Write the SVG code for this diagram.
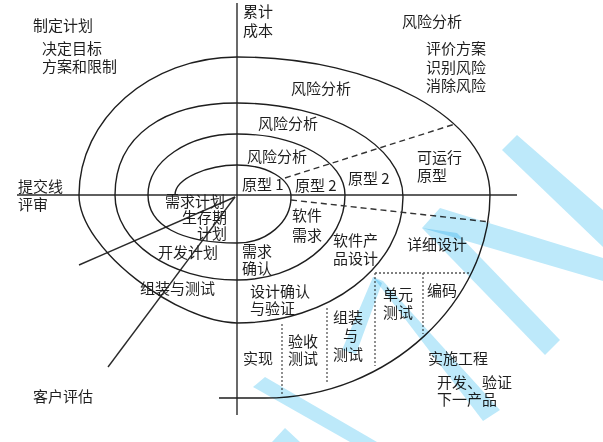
<svg xmlns="http://www.w3.org/2000/svg" width="603" height="442" viewBox="0 0 603 442">
<style>
  .ln{fill:none;stroke:#1e1e1e;stroke-width:1.4}
  .ax{fill:none;stroke:#2a2a2a;stroke-width:1.4}
  .dash{fill:none;stroke:#333;stroke-width:1.4;stroke-dasharray:6 4}
  .dot{fill:none;stroke:#555;stroke-width:1.3;stroke-dasharray:2 2}
  text{font-family:"Noto Sans CJK SC","Noto Sans",sans-serif;font-size:15px;fill:#1e1e1e}
  .wm{fill:#bde9fa;mix-blend-mode:multiply}
</style>
<rect width="603" height="442" fill="#ffffff"/>
<g id="axes">
  <line class="ax" x1="237" y1="3" x2="237" y2="415"/>
  <line class="ax" x1="17" y1="195" x2="517" y2="195"/>
  <line class="ax" x1="79" y1="265" x2="235" y2="197"/>
  <line class="ax" x1="108" y1="367" x2="235" y2="197"/>
</g>
<g id="spiral">
  <path class="ln" d="M175,195 C175,178 209,165 237,165 C267,165 291,179 291,197 C291,222 267,243 237,243 C180,243 148,225 148,195 C148,161 188,134 237,134 C297,134 345,161 345,195 C345,242 297,280 237,280 C170,280 115,242 115,195 C115,135 165,103 237,103 C329,103 403,145 403,197 C403,266 329,323 237,323 C180,323 79,250 79,195 C79,119 150,57 237,57 C377,57 490,119 490,195 C490,300 390,398 265,398 L219,398"/>
</g>
<g id="connectors">
  <line class="dash" x1="285" y1="178" x2="455" y2="124"/>
  <line class="dash" x1="291" y1="200" x2="490" y2="222"/>
  <line class="dot" x1="375" y1="273" x2="471" y2="273"/>
  <line class="dot" x1="375" y1="273" x2="375" y2="366"/>
  <line class="dot" x1="423" y1="273" x2="423" y2="334"/>
  <line class="dot" x1="327" y1="308" x2="327" y2="384"/>
  <line class="dot" x1="282" y1="324" x2="282" y2="395"/>
</g>
<g id="labels">
  <text x="33" y="31">制定计划</text>
  <text x="42" y="54">决定目标</text>
  <text x="42" y="72">方案和限制</text>
  <text x="243" y="17">累计</text>
  <text x="243" y="36">成本</text>
  <text x="402" y="27">风险分析</text>
  <text x="426" y="54">评价方案</text>
  <text x="426" y="73">识别风险</text>
  <text x="426" y="91">消除风险</text>
  <text x="291" y="94">风险分析</text>
  <text x="258" y="129">风险分析</text>
  <text x="247" y="162">风险分析</text>
  <text x="242" y="190">原型 1</text>
  <text x="295" y="191">原型 2</text>
  <text x="348" y="184">原型 2</text>
  <text x="417" y="163">可运行</text>
  <text x="417" y="181">原型</text>
  <text x="18" y="192">提交线</text>
  <text x="18" y="210">评审</text>
  <text x="165" y="207">需求计划</text>
  <text x="182" y="223">生存期</text>
  <text x="197" y="239">计划</text>
  <text x="158" y="258">开发计划</text>
  <text x="292" y="221">软件</text>
  <text x="292" y="241">需求</text>
  <text x="333" y="246">软件产</text>
  <text x="333" y="264">品设计</text>
  <text x="407" y="250">详细设计</text>
  <text x="242" y="257">需求</text>
  <text x="242" y="274">确认</text>
  <text x="140" y="294">组装与测试</text>
  <text x="250" y="297">设计确认</text>
  <text x="250" y="314">与验证</text>
  <text x="427" y="296">编码</text>
  <text x="383" y="300">单元</text>
  <text x="383" y="318">测试</text>
  <text x="333" y="323">组装</text>
  <text x="343" y="341">与</text>
  <text x="333" y="360">测试</text>
  <text x="243" y="364">实现</text>
  <text x="288" y="347">验收</text>
  <text x="288" y="364">测试</text>
  <text x="428" y="364">实施工程</text>
  <text x="437" y="388">开发、验证</text>
  <text x="437" y="405">下一产品</text>
  <text x="33" y="402">客户评估</text>
</g>
<g id="watermark">
  <polygon class="wm" points="517,135 603,210 603,247 502,150"/>
  <polygon class="wm" points="440,208 603,258 603,281 422,228"/>
  <polygon class="wm" points="457,233 560,340 545,355 422,228"/>
  <polygon class="wm" points="373,277 382,283 356,354 342,350"/>
  <polygon class="wm" points="373,277 383,281 500,410 483,421"/>
  <polygon class="wm" points="265,377 377,442 350,442 253,387"/>
  <polygon class="wm" points="272,442 285,428 300,442"/>
</g>
</svg>
